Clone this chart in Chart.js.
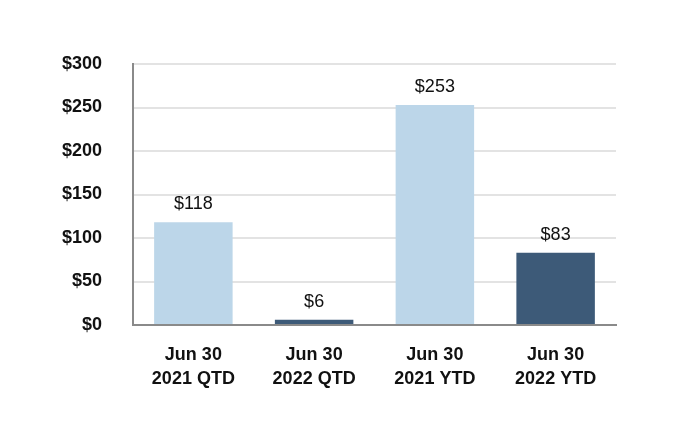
<!DOCTYPE html>
<html><head><meta charset="utf-8">
<script src="https://cdn.jsdelivr.net/npm/chart.js@4"></script>
<style>html,body{margin:0;padding:0;background:#fff}#w{width:680px;height:448px}</style>
</head><body><div id="w"><canvas id="c"></canvas></div>
<script>
const categories = [["Jun 30","2021 QTD"],["Jun 30","2022 QTD"],["Jun 30","2021 YTD"],["Jun 30","2022 YTD"]];
const values = [118, 6, 253, 83];
const barColors = ["#bcd6e9","#3d5a78","#bcd6e9","#3d5a78"];
const yTicks = [0,50,100,150,200,250,300];
const FONT = "'Liberation Sans', Arial, sans-serif";

const labelPlugin = {
  id: 'vals',
  afterDatasetsDraw(chart){
    const ctx = chart.ctx;
    const meta = chart.getDatasetMeta(0);
    ctx.save();
    ctx.font = "18px " + FONT;
    ctx.fillStyle = "#111";
    ctx.textAlign = "center";
    ctx.textBaseline = "middle";
    meta.data.forEach((bar,i)=>{
      ctx.fillText("$" + values[i], bar.x, bar.y - 18);
    });
    ctx.restore();
  }
};

new Chart(document.getElementById('c'), {
  type: 'bar',
  data: { labels: categories, datasets: [{ data: values, backgroundColor: barColors, barPercentage: 0.65, categoryPercentage: 1 }] },
  options: {
    responsive: true, maintainAspectRatio: false, animation: false,
    layout: { padding: { left: 0, right: 64, top: 64, bottom: 0 } },
    plugins: { legend: { display: false }, tooltip: { enabled: false } },
    scales: {
      x: {
        grid: { display: false, drawTicks: false },
        border: { color: '#8a8a8a', width: 2 },
        ticks: { color: '#111', font: { family: FONT, size: 18, weight: 'bold', lineHeight: 1.28 }, padding: 19, maxRotation: 0 },
        afterFit(s){ s.height = 123; }
      },
      y: {
        min: 0, max: 300,
        afterBuildTicks(s){ s.ticks = yTicks.map(v=>({value:v})); },
        grid: { color: '#e3e3e3', lineWidth: 2, drawTicks: false },
        border: { color: '#8a8a8a', width: 2 },
        ticks: { color: '#111', font: { family: FONT, size: 18, weight: 'bold' }, padding: 31, callback: v => '$' + v },
        afterFit(s){ s.width = 133; }
      }
    }
  },
  plugins: [labelPlugin]
});
</script></body></html>
